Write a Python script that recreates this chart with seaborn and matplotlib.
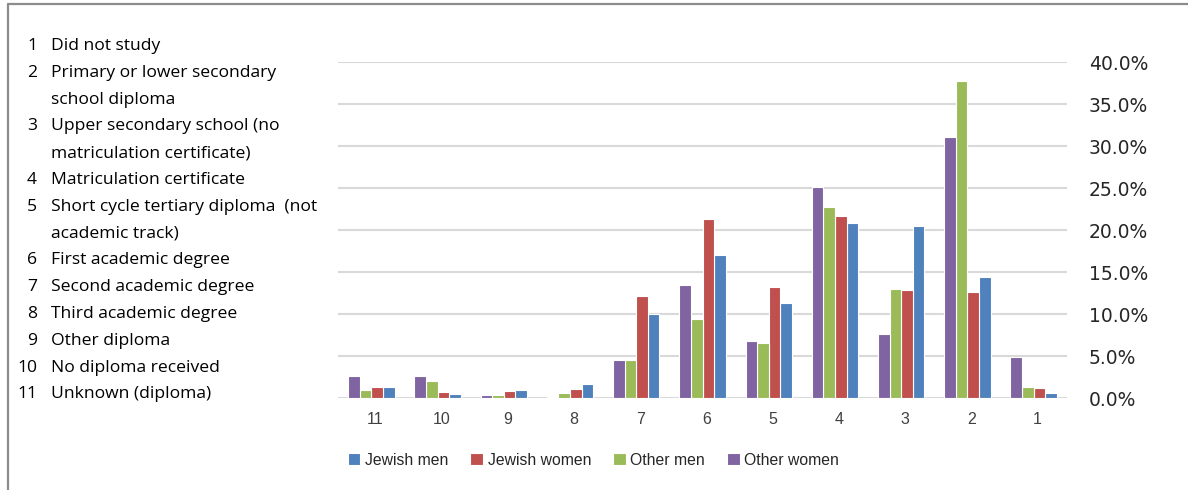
import matplotlib
matplotlib.use("Agg")
import matplotlib.pyplot as plt
from matplotlib.lines import Line2D
from matplotlib.ticker import FuncFormatter, MultipleLocator
from matplotlib.transforms import ScaledTranslation
import numpy as np
import pandas as pd
import seaborn as sns

# Education level codes and their descriptions
levels = ["1", "2", "3", "4", "5", "6", "7", "8", "9", "10", "11"]
level_desc = [
    ("1", "Did not study"),
    ("2", "Primary or lower secondary"),
    ("", "school diploma"),
    ("3", "Upper secondary school (no"),
    ("", "matriculation certificate)"),
    ("4", "Matriculation certificate"),
    ("5", "Short cycle tertiary diploma  (not"),
    ("", "academic track)"),
    ("6", "First academic degree"),
    ("7", "Second academic degree"),
    ("8", "Third academic degree"),
    ("9", "Other diploma"),
    ("10", "No diploma received"),
    ("11", "Unknown (diploma)"),
]

# Share of each population group (%) by education level 1..11
jewish_men = [0.6, 14.45, 20.5, 20.85, 11.35, 17.0, 10.0, 1.7, 1.0, 0.5, 1.35]
jewish_women = [1.25, 12.65, 12.9, 21.7, 13.25, 21.35, 12.2, 1.1, 0.85, 0.75, 1.35]
other_men = [1.35, 37.8, 13.0, 22.8, 6.55, 9.45, 4.5, 0.6, 0.35, 2.05, 1.0]
other_women = [4.95, 31.1, 7.6, 25.1, 6.8, 13.5, 4.5, 0.15, 0.35, 2.65, 2.65]

groups = ["Jewish men", "Jewish women", "Other men", "Other women"]
colors = ["#4F81BD", "#C0504D", "#9BBB59", "#8064A2"]

df = pd.concat([
    pd.DataFrame({"level": levels, "share": vals, "group": g})
    for g, vals in zip(groups, [jewish_men, jewish_women, other_men, other_women])
])

sns.set_theme(style="white")
plt.rcParams["font.family"] = ["Open Sans", "DejaVu Sans"]

W, H = 1188, 490
fig = plt.figure(figsize=(W / 100, H / 100), dpi=100)
ax = fig.add_axes([338.3 / W, 1 - 398.3 / H, (1066.7 - 338.3) / W, (398.3 - 62.3) / H])

sns.barplot(data=df, x="level", y="share", hue="group", order=levels,
            hue_order=groups, palette=colors, width=0.7, edgecolor="white",
            linewidth=0.8, saturation=1, ax=ax, zorder=3)
ax.invert_xaxis()

ax.set_ylim(0, 40)
ax.yaxis.set_major_locator(MultipleLocator(5))
ax.yaxis.set_major_formatter(FuncFormatter(lambda v, p: f"{v:.1f}%"))
ax.yaxis.tick_right()
ax.grid(axis="y", color="#D9D9D9", linewidth=1.5, zorder=0)
ax.set_axisbelow(True)
for s in ax.spines.values():
    s.set_visible(False)
ax.set_xlabel("")
ax.set_ylabel("")
ax.tick_params(axis="y", length=0, pad=16, labelsize=13.5, labelcolor="#262626")
ax.tick_params(axis="x", length=0, pad=10, labelsize=11.5, labelcolor="#404040")
for lab in ax.get_yticklabels():
    lab.set_family(["DejaVu Sans"])
shift = ScaledTranslation(4 / 100, 0, fig.dpi_scale_trans)
for lab in ax.get_xticklabels():
    lab.set_family(["Liberation Sans", "DejaVu Sans"])
    lab.set_transform(lab.get_transform() + shift)

handles, labels = ax.get_legend_handles_labels()
ax.get_legend().remove()
fig.legend(handles, labels, loc="center", bbox_to_anchor=(593.5 / W, 1 - 460 / H),
           ncol=4, frameon=False, handlelength=0.8, handleheight=0.8,
           handletextpad=0.3, columnspacing=1.4,
           prop={"family": ["Liberation Sans Narrow", "Liberation Sans", "DejaVu Sans"], "size": 11.3})

# Description list of the education codes
for k, (num, text) in enumerate(level_desc):
    yb = 1 - (50 + 26.8 * k) / H
    if num:
        fig.text(37 / W, yb, num, ha="right", va="baseline", fontsize=12.6, color="black")
    fig.text(51 / W, yb, text, ha="left", va="baseline", fontsize=12.6, color="black")

# Outer frame lines
fig.add_artist(Line2D([8 / W, 1], [1 - 4 / H, 1 - 4 / H], color="#8C8C8C", linewidth=1.6))
fig.add_artist(Line2D([8 / W, 8 / W], [0, 1 - 4 / H], color="#8C8C8C", linewidth=1.6))

fig.savefig("out.png", dpi=100, facecolor="white")
